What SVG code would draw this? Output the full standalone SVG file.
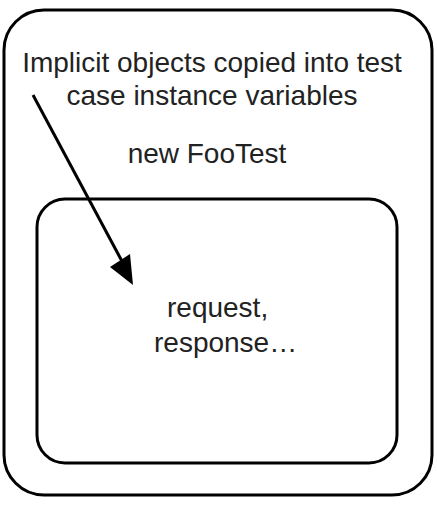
<svg xmlns="http://www.w3.org/2000/svg" width="437" height="507" viewBox="0 0 437 507">
<style>
.box{fill:none;stroke:#000;stroke-width:3}
.t{font-family:"Liberation Sans",Arial,sans-serif;font-size:28px;fill:#222}
</style>
<rect width="437" height="507" fill="#fff"/>
<g id="outer">
<rect class="box" x="4" y="10" width="428" height="485" rx="40" ry="40"/>
<text class="t" x="212" y="72" text-anchor="middle">Implicit objects copied into test</text>
<text class="t" x="212" y="105" text-anchor="middle">case instance variables</text>
<text class="t" x="207" y="163" text-anchor="middle">new FooTest</text>
</g>
<g id="inner">
<rect class="box" x="37" y="199" width="360" height="264" rx="28" ry="28"/>
<text class="t" x="167" y="317">request,</text>
<text class="t" x="154" y="352">response…</text>
</g>
<g id="connectors">
<line x1="33" y1="95" x2="124" y2="265" stroke="#000" stroke-width="3"/>
<polygon points="133,285 110,267 130,254" fill="#000"/>
</g>
</svg>
